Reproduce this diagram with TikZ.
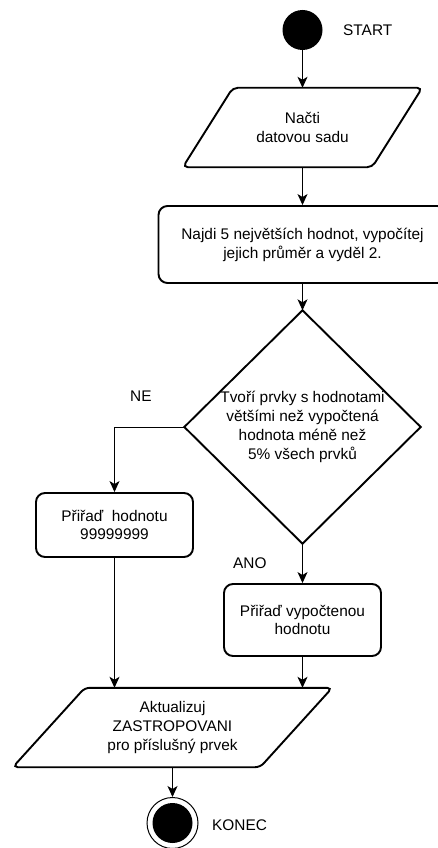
\documentclass[tikz,border=0pt]{standalone}
\usepackage{fontspec}
\setmainfont{Liberation Sans}
\usetikzlibrary{arrows.meta,calc}

\begin{document}
\begin{tikzpicture}[x=1pt,y=-1pt,
  every node/.style={font=\fontsize{15.4}{18.9}\selectfont},
  box/.style={draw, line width=1.9pt, rounded corners=9pt, align=center, inner sep=0pt},
  frame/.style={inner sep=0pt, align=center},
  outline/.style={draw, line width=1.9pt, rounded corners=5pt},
  lbl/.style={inner sep=0pt, anchor=west},
  flow/.style={draw, line width=1pt, -{Stealth[length=11pt,width=10pt,inset=3pt]}}]

  % page area
  \clip (0,0) rectangle (438,848);

  % start and end markers
  \node[circle, fill, minimum size=40pt, inner sep=0pt] (start) at (302.5,30) {};
  \node[lbl] (startlbl) at (343,30) {START};

  % input: read data set
  \node[frame, minimum width=239pt, minimum height=79pt] (read) at (302.5,127.5) {Načti\\datovou sadu};
  \draw[outline] (read.south west) -- ($(read.north west)+(50,0)$) -- (read.north east)
        -- ($(read.south east)+(-50,0)$) -- cycle;

  % process: compute threshold
  \node[box, minimum width=288pt, minimum height=77pt] (calc) at (302.5,244.5)
        {Najdi 5 největších hodnot, vypočítej\\jejich průměr a vyděl 2.};

  % decision
  \node[frame, minimum width=236pt, minimum height=233pt] (cond) at (302.5,427)
        {Tvoří prvky s hodnotami\\většími než vypočtená\\hodnota méně než\\5\% všech prvků};
  \draw[outline, rounded corners=0pt] (cond.north) -- (cond.east) -- (cond.south) -- (cond.west) -- cycle;

  % branches
  \node[box, minimum width=157pt, minimum height=64pt] (nine) at (114.5,525) {Přiřaď\ \ hodnotu\\99999999};
  \node[box, minimum width=157pt, minimum height=72pt] (assign) at (302.5,620) {Přiřaď vypočtenou\\hodnotu};
  \node[lbl] (nelbl) at (130,396) {NE};
  \node[lbl] (anolbl) at (233,563) {ANO};

  % output: update value
  \node[frame, minimum width=319pt, minimum height=79pt] (update) at (172.5,727.5)
        {Aktualizuj\\ZASTROPOVANI\\pro příslušný prvek};
  \draw[outline] (update.south west) -- ($(update.north west)+(72,0)$) -- (update.north east)
        -- ($(update.south east)+(-72,0)$) -- cycle;

  \node[circle, draw, line width=1pt, minimum size=51pt, inner sep=0pt] (endring) at (172.5,823) {};
  \node[circle, fill, minimum size=40pt, inner sep=0pt] (enddot) at (172.5,823) {};
  \node[lbl] (endlbl) at (212,825) {KONEC};

  % connectors
  \draw[flow] (start.south) -- (read.north);
  \draw[flow] (read.south) -- (calc.north);
  \draw[flow] (calc.south) -- (cond.north);
  \draw[flow] (cond.west) -| (nine.north);
  \draw[flow] (cond.south) -- (assign.north);
  \draw[flow] (nine.south) -- (nine.south |- update.north);
  \draw[flow] (assign.south) -- (assign.south |- update.north);
  \draw[flow] (update.south) -- (endring.north);
\end{tikzpicture}
\end{document}
